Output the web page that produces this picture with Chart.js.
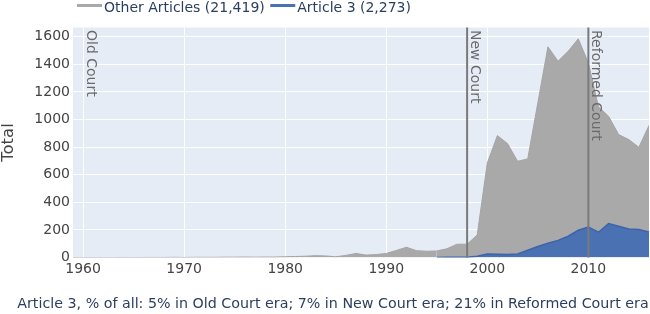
<!DOCTYPE html>
<html lang="en">
<head>
  <meta charset="UTF-8">
  <title>Article 3 vs other articles</title>
  <script src="https://cdn.jsdelivr.net/npm/chart.js@4.4.1/dist/chart.umd.min.js"></script>
  <style>
    * { box-sizing: border-box; margin: 0; padding: 0; }
    html, body { width: 650px; height: 314px; overflow: hidden; background: #fff; }
    body { font-family: 'DejaVu Sans', Verdana, sans-serif; position: relative; }
    .chart-container { position: absolute; left: 0; top: 0; width: 650px; height: 314px; }
    .caption {
      position: absolute; left: 16px; right: 0; top: 295px;
      text-align: center; font-size: 14.25px; line-height: 16px;
      color: #2a3f5f; white-space: nowrap;
    }
  </style>
</head>
<body>
  <div class="chart-container">
    <canvas id="chart"></canvas>
  </div>
  <div class="caption">Article 3, % of all: 5% in Old Court era; 7% in New Court era; 21% in Reformed Court era</div>

  <script>
    const years = [
      1959, 1960, 1961, 1962, 1963, 1964, 1965, 1966, 1967, 1968,
      1969, 1970, 1971, 1972, 1973, 1974, 1975, 1976, 1977, 1978,
      1979, 1980, 1981, 1982, 1983, 1984, 1985, 1986, 1987, 1988,
      1989, 1990, 1991, 1992, 1993, 1994, 1995, 1996, 1997, 1998,
      1999, 2000, 2001, 2002, 2003, 2004, 2005, 2006, 2007, 2008,
      2009, 2010, 2011, 2012, 2013, 2014, 2015, 2016
    ];

    // Article 3 judgments per year (bottom of the stack)
    const article3 = [
      0, 0, 0, 0, 0, 0, 0, 0, 0, 0,
      0, 0, 0, 0, 0, 0, 0, 0, 0, 0,
      0, 0, 0, 0, 0, 0, 0, 0, 0, 0,
      0, 0, 0, 0, 0, 0, 0, 2, 3, 3,
      10, 26, 25, 22, 26, 53, 80, 104, 125, 155,
      198, 222, 184, 246, 227, 208, 204, 186
    ];

    // All other articles per year (stacked on top)
    const otherArticles = [
      0, 0, 0, 0, 0, 1, 0, 1, 1, 1,
      2, 1, 2, 2, 2, 3, 3, 4, 3, 4,
      4, 6, 8, 10, 14, 12, 6, 16, 30, 18,
      22, 30, 52, 75, 50, 46, 48, 62, 94, 94,
      154, 660, 859, 804, 672, 662, 1041, 1423, 1298, 1340,
      1387, 1189, 908, 778, 664, 647, 595, 771
    ];

    const seriesNames = ['Article 3 (2,273)', 'Other Articles (21,419)'];
    const legendOrder = [1, 0];

    const xTicks = [1960, 1970, 1980, 1990, 2000, 2010];
    const yTicks = [0, 200, 400, 600, 800, 1000, 1200, 1400, 1600];

    const eraNames = ['Old Court', 'New Court', 'Reformed Court'];
    const eraStarts = [1960, 1998, 2010];
    const eraHasLine = [false, true, true];

    const FONT = "'DejaVu Sans', Verdana, sans-serif";

    // pas de trait sur les segments à zéro
    const hideFlat = ctx => (ctx.p0.parsed.y === 0 && ctx.p1.parsed.y === 0) ? 'rgba(0,0,0,0)' : undefined;

    // fond du graphique façon plotly
    const plotBackground = {
      id: 'plotBackground',
      beforeDraw(chart) {
        const { ctx, chartArea } = chart;
        ctx.save();
        ctx.fillStyle = '#e5ecf6';
        ctx.fillRect(chartArea.left, chartArea.top, chartArea.width, chartArea.height);
        ctx.restore();
      }
    };

    // lignes verticales + textes des périodes
    const eraMarkers = {
      id: 'eraMarkers',
      afterDatasetsDraw(chart) {
        const { ctx, chartArea } = chart;
        const xs = chart.scales.x;
        ctx.save();
        eraNames.forEach((name, i) => {
          const x = xs.getPixelForValue(eraStarts[i]);
          if (eraHasLine[i]) {
            ctx.beginPath();
            ctx.moveTo(x, chartArea.top);
            ctx.lineTo(x, chartArea.bottom);
            ctx.lineWidth = 2;
            ctx.strokeStyle = '#7a7a7a';
            ctx.stroke();
          }
          ctx.save();
          ctx.translate(x + 3.5, chartArea.top + 2.5);
          ctx.rotate(Math.PI / 2);
          ctx.font = '14px ' + FONT;
          ctx.fillStyle = '#6a6a6a';
          ctx.textBaseline = 'alphabetic';
          ctx.textAlign = 'left';
          ctx.fillText(name, 0, 0);
          ctx.restore();
        });
        ctx.restore();
      }
    };

    // légende en haut
    const topLegend = {
      id: 'topLegend',
      afterDraw(chart) {
        const ctx = chart.ctx;
        ctx.save();
        ctx.font = '14px ' + FONT;
        ctx.textBaseline = 'alphabetic';
        let x = 77;
        legendOrder.forEach(i => {
          const ds = chart.data.datasets[i];
          ctx.fillStyle = ds.backgroundColor;
          ctx.fillRect(x, 4, 25, 3);
          ctx.fillStyle = '#2a3f5f';
          ctx.fillText(ds.label, x + 27, 12);
          x += 27 + ctx.measureText(ds.label).width + 5.5;
        });
        ctx.restore();
      }
    };

    new Chart(document.getElementById('chart'), {
      type: 'line',
      data: {
        datasets: [
          {
            label: seriesNames[0],
            data: years.map((y, i) => ({ x: y, y: article3[i] })),
            borderColor: '#3d63ab',
            backgroundColor: '#4a71b2',
            borderWidth: 1.5,
            pointRadius: 0,
            tension: 0,
            fill: 'origin',
            segment: { borderColor: hideFlat }
          },
          {
            label: seriesNames[1],
            data: years.map((y, i) => ({ x: y, y: otherArticles[i] })),
            borderColor: '#a4a4a4',
            backgroundColor: '#a9a9a9',
            borderWidth: 1,
            pointRadius: 0,
            tension: 0,
            fill: '-1'
          }
        ]
      },
      options: {
        responsive: true,
        maintainAspectRatio: false,
        animation: false,
        layout: { padding: { top: 27.5, left: 0, right: 1, bottom: 34 } },
        plugins: {
          legend: { display: false },
          tooltip: { enabled: false }
        },
        scales: {
          x: {
            type: 'linear',
            min: 1959,
            max: 2016,
            afterBuildTicks: scale => { scale.ticks = xTicks.map(v => ({ value: v })); },
            afterFit: scale => { scale.height = 22.4; },
            ticks: {
              color: '#444',
              font: { family: FONT, size: 14 },
              padding: 3,
              maxRotation: 0,
              callback: v => String(v)
            },
            grid: { color: '#ffffff', lineWidth: 1, drawTicks: false },
            border: { display: false }
          },
          y: {
            stacked: true,
            min: 0,
            max: 1667,
            afterBuildTicks: scale => { scale.ticks = yTicks.map(v => ({ value: v })); },
            afterFit: scale => { scale.width = 73; },
            ticks: {
              color: '#444',
              font: { family: FONT, size: 14 },
              padding: 3,
              callback: v => String(v)
            },
            grid: { color: '#ffffff', lineWidth: 1, drawTicks: false },
            border: { display: false },
            title: {
              display: true,
              text: 'Total',
              color: '#444',
              font: { family: FONT, size: 16.5 },
              padding: { top: -1, bottom: 0 }
            }
          }
        }
      },
      plugins: [plotBackground, eraMarkers, topLegend]
    });
  </script>
</body>
</html>
